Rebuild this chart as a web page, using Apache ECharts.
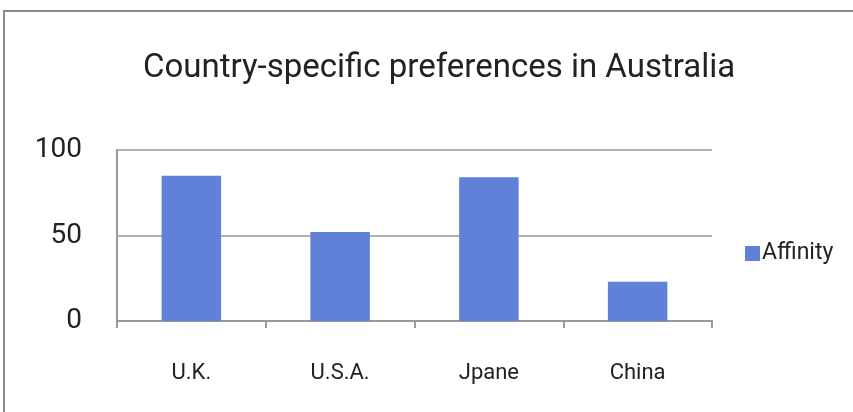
<!DOCTYPE html>
<html>
<head>
<meta charset="utf-8">
<script src="https://cdn.jsdelivr.net/npm/echarts@6/dist/echarts.min.js"></script>
<style>
  html, body { margin: 0; padding: 0; background: #fff; }
  #chart { width: 853px; height: 412px; }
</style>
</head>
<body>
<div id="chart"></div>
<script>
const countries = ['U.K.', 'U.S.A.', 'Jpane', 'China']
const affinity = [85, 52, 84, 23]
const yTicks = [0, 50, 100]

const chart = echarts.init(document.getElementById('chart'))
chart.setOption({
  animation: false,
  textStyle: { fontFamily: 'Roboto' },
  title: {
    text: 'Country-specific preferences in Australia',
    left: 138,
    top: 47,
    textStyle: { fontSize: 33, fontWeight: 'normal', color: '#222', fontFamily: 'Roboto' }
  },
  graphic: [{
    type: 'rect',
    shape: { x: 4, y: 11, width: 900, height: 500 },
    style: { fill: 'none', stroke: '#8a8a8a', lineWidth: 2 },
    silent: true
  }],
  legend: {
    data: ['Affinity'],
    orient: 'vertical',
    left: 740,
    top: 237,
    icon: 'rect',
    itemWidth: 15,
    itemHeight: 15,
    itemGap: 6,
    textStyle: { fontSize: 23, color: '#222', padding: [0, 0, 0, -3] }
  },
  grid: { left: 117, right: 141, top: 150, bottom: 91 },
  xAxis: {
    type: 'category',
    data: countries,
    axisLine: { lineStyle: { color: '#999', width: 2 } },
    axisTick: { show: true, length: 7, lineStyle: { color: '#999', width: 2 } },
    axisLabel: { fontSize: 22, color: '#222', margin: 41 }
  },
  yAxis: {
    type: 'value',
    min: yTicks[0],
    max: yTicks[yTicks.length - 1],
    interval: 50,
    axisLine: { show: true, lineStyle: { color: '#999', width: 2 } },
    axisTick: { show: false },
    axisLabel: { fontSize: 28, color: '#222', margin: 35 },
    splitLine: { lineStyle: { color: '#999', width: 1.5 } }
  },
  series: [{
    name: 'Affinity',
    type: 'bar',
    data: affinity,
    barWidth: '40%',
    itemStyle: { color: '#6181d8' }
  }]
})
</script>
</body>
</html>
